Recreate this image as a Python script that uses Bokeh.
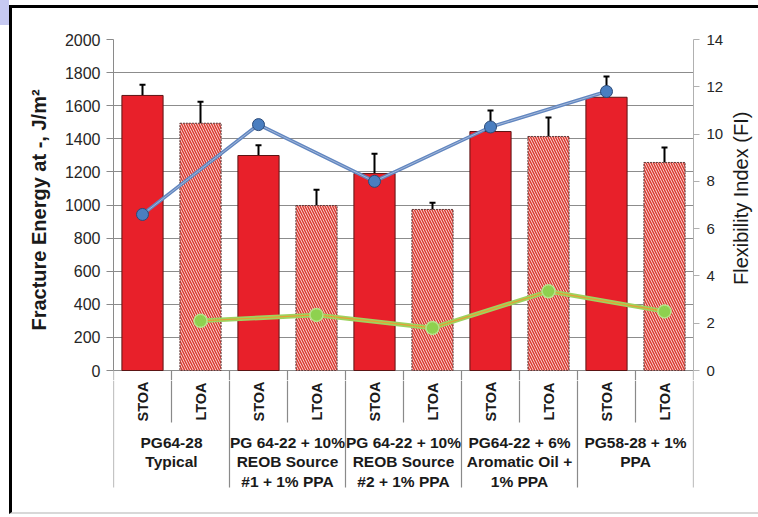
import numpy as np
from bokeh.plotting import figure
from bokeh.layouts import column, row
from bokeh.models import (FactorRange, Range1d, LinearAxis, FixedTicker,
                          ColumnDataSource, Whisker, TeeHead)
from bokeh.core.properties import value
from bokeh.embed import file_html
from bokeh.resources import INLINE

# ---- data -------------------------------------------------------------
groups = [
    "PG64-28\nTypical",
    "PG 64-22 + 10%\nREOB Source\n#1 + 1% PPA",
    "PG 64-22 + 10%\nREOB Source\n#2 + 1% PPA",
    "PG64-22 + 6%\nAromatic Oil +\n1% PPA",
    "PG58-28 + 1%\nPPA",
]
aging = ["STOA", "LTOA"]

stoa_energy = [1662, 1299, 1190, 1444, 1651]
stoa_err = [65, 62, 120, 127, 125]
ltoa_energy = [1494, 997, 973, 1414, 1257]
ltoa_err = [130, 95, 40, 115, 90]

stoa_fi = [6.6, 10.4, 8.0, 10.3, 11.8]
ltoa_fi = [2.1, 2.35, 1.8, 3.35, 2.5]

energy_ticks = [0, 200, 400, 600, 800, 1000, 1200, 1400, 1600, 1800, 2000]
fi_ticks = [0, 2, 4, 6, 8, 10, 12, 14]
fi_title = "Flexibility Index (FI)"

# ---- layout geometry (pixels) -----------------------------------------
W, H = 758, 517
FRAME_L, FRAME_R, FRAME_T, ZERO_Y = 113, 693, 39, 370
CHART_W = 726                      # chart panel width; the FI title sits to its right
SPLIT_Y = 380                      # chart panel / category-label panel boundary
CAT_B = 505                        # bottom of the category-label panel
GROUP_SEP_Y, SUB_SEP_Y = 487, 422
SUB_LABEL_Y, GROUP_LABEL_Y = 401, 433
FI_TITLE_X, FI_TITLE_Y = 740, 177

E_MAX, FI_MAX = energy_ticks[-1], fi_ticks[-1]
px_per_e = (ZERO_Y - FRAME_T) / E_MAX
e_start = -(SPLIT_Y - ZERO_Y) / px_per_e
fi_start = e_start * FI_MAX / E_MAX

FONT = value("Liberation Sans")
GRAY = "#8a8a8a"
INK = "#1a1a1a"

# black picture frame drawn over the canvas edges
FRAME_CSS = """
:host { position: relative; }
:host::after {
  content: ""; position: absolute; left: 9px; top: 5px;
  width: 746px; height: 504px;
  border-left: 3px solid #000; border-top: 3px solid #000;
  border-bottom: 2px solid #d8d8d8;
  pointer-events: none; z-index: 10;
}
:host::before {
  content: ""; position: absolute; left: 0; top: 0;
  width: 9px; height: 25px; background: #C6C9F1;
  pointer-events: none; z-index: 10;
}
"""

factors = [(g, a) for g in groups for a in aging]
x_range = FactorRange(*factors, group_padding=0, factor_padding=0, range_padding=0)


def panel(width, height, x_rng, y_rng, left=0, right=0, top=0, bottom=0):
    f = figure(width=width, height=height, x_range=x_rng, y_range=y_rng,
               output_backend="svg", toolbar_location=None,
               x_axis_location=None, y_axis_location=None,
               min_border_left=left, min_border_right=right,
               min_border_top=top, min_border_bottom=bottom,
               outline_line_color=None, background_fill_color="white",
               border_fill_color="white")
    return f


# ======================= chart panel ===================================
p = panel(CHART_W, SPLIT_Y, x_range, Range1d(e_start, E_MAX),
          left=FRAME_L, right=CHART_W - FRAME_R, top=FRAME_T)
p.extra_y_ranges = {"fi": Range1d(fi_start, FI_MAX)}

yl = LinearAxis(ticker=FixedTicker(ticks=energy_ticks), bounds=(0, E_MAX))
yl.axis_label = "Fracture Energy at -, J/m²"
yl.axis_label_text_font = "Liberation Sans"
yl.axis_label_text_font_style = "bold"
yl.axis_label_text_font_size = "20px"
yl.axis_label_text_color = INK
yl.axis_label_standoff = 12
yl.major_label_text_font = "Liberation Sans"
yl.major_label_text_font_size = "16px"
yl.major_label_text_color = "#262626"
yl.major_label_standoff = 6
yl.axis_line_color = GRAY
yl.major_tick_line_color = GRAY
yl.major_tick_out = 7
yl.major_tick_in = 0
yl.minor_tick_line_color = None
p.add_layout(yl, "left")

yr = LinearAxis(y_range_name="fi", ticker=FixedTicker(ticks=fi_ticks), bounds=(0, FI_MAX))
yr.major_label_text_font = "Liberation Sans"
yr.major_label_text_font_size = "15px"
yr.major_label_text_color = "#262626"
yr.major_label_standoff = 7
yr.axis_line_color = "#b0b0b0"
yr.major_tick_line_color = "#b0b0b0"
yr.major_tick_out = 6
yr.major_tick_in = 0
yr.minor_tick_line_color = None
p.add_layout(yr, "right")

p.xgrid.visible = False
p.ygrid.ticker = FixedTicker(ticks=energy_ticks)
p.ygrid.grid_line_color = "#8c8c8c"
p.ygrid.grid_line_width = 1

stoa_x = [(g, "STOA") for g in groups]
ltoa_x = [(g, "LTOA") for g in groups]

# bars
p.vbar(x=stoa_x, top=stoa_energy, bottom=0, width=0.71,
       fill_color="#E8202A", line_color="#5c1414", line_width=1)
p.vbar(x=ltoa_x, top=ltoa_energy, bottom=0, width=0.71,
       fill_color="#FCE4DF", hatch_pattern="\\", hatch_color="#DA3A32",
       hatch_scale=5, hatch_weight=1.5,
       line_color="#5c3a3a", line_width=1, line_dash="2 1")

# error bars
err_src = ColumnDataSource(dict(
    x=stoa_x + ltoa_x,
    upper=[v + e for v, e in zip(stoa_energy + ltoa_energy, stoa_err + ltoa_err)],
    lower=[v - e for v, e in zip(stoa_energy + ltoa_energy, stoa_err + ltoa_err)],
))
p.add_layout(Whisker(source=err_src, base="x", upper="upper", lower="lower",
                     line_color="black", line_width=2,
                     upper_head=TeeHead(size=6, line_color="black", line_width=2),
                     lower_head=TeeHead(size=6, line_color="black", line_width=2)))

# flexibility index lines
stoa_src = ColumnDataSource(dict(x=stoa_x, y=stoa_fi))
ltoa_src = ColumnDataSource(dict(x=ltoa_x, y=ltoa_fi))

p.line("x", "y", source=stoa_src, y_range_name="fi", line_color="#6186C0", line_width=3.5)
p.line("x", "y", source=stoa_src, y_range_name="fi", line_color="#A3B7D8", line_width=1)
p.scatter("x", "y", source=stoa_src, y_range_name="fi", size=12,
          fill_color="#4A7EC0", line_color="#2B4A78", line_width=1)

p.line("x", "y", source=ltoa_src, y_range_name="fi", line_color="#9ED35E", line_width=4.5)
p.line("x", "y", source=ltoa_src, y_range_name="fi", line_color="#E5A035", line_width=1.2)
p.scatter("x", "y", source=ltoa_src, y_range_name="fi", size=13,
          fill_color="#8ED14F", line_color="#B6E38A", line_width=1.5)

grp_sep = [(g, "STOA", -0.5) for g in groups] + [(groups[-1], "LTOA", 0.5)]
sub_sep = [(g, "LTOA", -0.5) for g in groups]
p.segment(x0=grp_sep + sub_sep, y0=0, x1=grp_sep + sub_sep, y1=e_start,
          line_color=GRAY, line_width=1.2)

# ======================= FI axis title panel ===========================
t = panel(W - CHART_W, SPLIT_Y, Range1d(CHART_W, W), Range1d(SPLIT_Y, 0))
t.grid.visible = False
t.text(x=[FI_TITLE_X], y=[FI_TITLE_Y], text=[fi_title], angle=np.pi / 2,
       text_align="center", text_baseline="middle",
       text_font=FONT, text_font_size="20px", text_color=INK)

# ======================= category label panel ==========================
# y runs downward in canvas pixels
q = panel(W, H - SPLIT_Y, x_range, Range1d(CAT_B, SPLIT_Y),
          left=FRAME_L, right=W - FRAME_R, bottom=H - CAT_B)
q.grid.visible = False

q.segment(x0=grp_sep, y0=SPLIT_Y, x1=grp_sep, y1=GROUP_SEP_Y,
          line_color=GRAY, line_width=1.2)
q.segment(x0=sub_sep, y0=SPLIT_Y, x1=sub_sep, y1=SUB_SEP_Y,
          line_color=GRAY, line_width=1.2)

q.text(x=stoa_x + ltoa_x, y=[SUB_LABEL_Y] * 10,
       text=["STOA"] * 5 + ["LTOA"] * 5,
       angle=np.pi / 2, text_align="center", text_baseline="middle",
       text_font=FONT, text_font_style="bold", text_font_size="14.5px", text_color=INK)
q.text(x=groups, y=[GROUP_LABEL_Y] * 5, text=groups,
       text_align="center", text_baseline="top", text_line_height=1.17,
       text_font=FONT, text_font_style="bold", text_font_size="15.5px", text_color=INK)

layout = column(row(p, t, spacing=0), q, spacing=0, stylesheets=[FRAME_CSS])
open("out.html", "w").write(file_html(layout, INLINE))
